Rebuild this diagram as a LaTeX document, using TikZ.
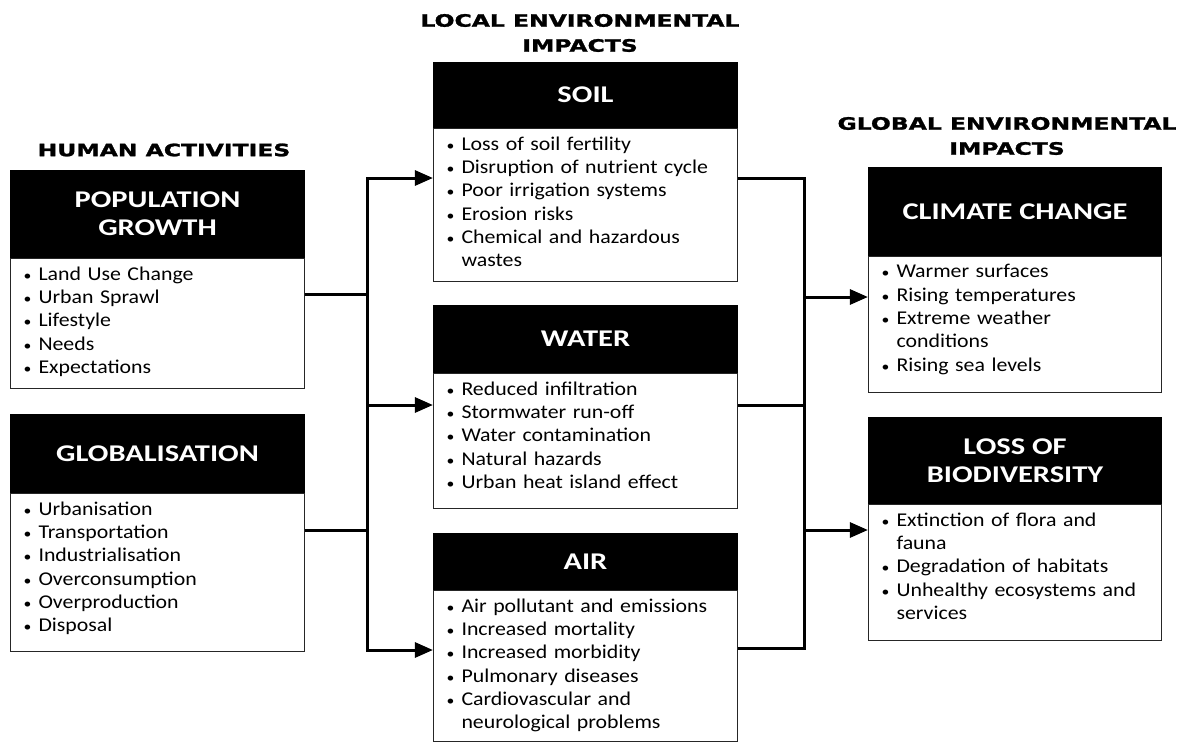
\documentclass[tikz,border=0pt]{standalone}
\usepackage{fontspec}
\setmainfont{Carlito}
\newfontfamily\headfont{Carlito}[FakeStretch=1.27]
\newfontfamily\bodyfont{Carlito}[FakeStretch=1.12]
\newfontfamily\ttlfont{DejaVu Sans}[FakeStretch=1.38,BoldFeatures={FakeBold=1.5}]
\usetikzlibrary{arrows.meta,positioning}

\tikzset{
  head/.style={fill=black,draw=black,line width=1pt,text=white,align=center,inner sep=0pt,
    anchor=north west,font=\headfont\bfseries\fontsize{24}{28}\selectfont},
  body/.style={draw=black!85,line width=1.2pt,fill=white,align=left,inner xsep=13pt,inner ysep=8pt,
    font=\bodyfont\fontsize{19.5}{23.3}\selectfont,below=0pt of #1},
  title/.style={align=center,font=\ttlfont\bfseries\fontsize{17}{25}\selectfont},
  link/.style={line width=3pt},
  arr/.style={link,-{Triangle[length=18pt,width=15pt]}}
}
\newcommand{\bitem}[1]{\par\hangindent=15pt\hangafter=1\noindent\makebox[15pt][l]{\fontsize{14}{14}\selectfont\textbullet}#1}
\newcommand{\bodytext}[2]{\vbox to #1{\raggedright #2\vfil}}

\begin{document}
\begin{tikzpicture}[x=1pt,y=-1pt]
\useasboundingbox (0,0) rectangle (1188,742);

% titles
\node[title] (human) at (164,150) {HUMAN ACTIVITIES};
\node[title] (local) at (580,33) {LOCAL ENVIRONMENTAL\\IMPACTS};
\node[title] (global) at (1007,136) {GLOBAL ENVIRONMENTAL\\IMPACTS};

% human activities
\node[head,minimum width=294,minimum height=87] (pop) at (10,170) {POPULATION\\GROWTH};
\node[body=pop,text width=268] (popbody) {\bodytext{114pt}{%
  \bitem{Land Use Change}\bitem{Urban Sprawl}\bitem{Lifestyle}\bitem{Needs}\bitem{Expectations}}};
\node[head,minimum width=294,minimum height=78] (glob) at (10,414) {GLOBALISATION};
\node[body=glob,text width=268] (globbody) {\bodytext{142pt}{%
  \bitem{Urbanisation}\bitem{Transportation}\bitem{Industrialisation}\bitem{Overconsumption}%
  \bitem{Overproduction}\bitem{Disposal}}};

% local impacts
\node[head,minimum width=304,minimum height=65] (soil) at (433,62) {SOIL};
\node[body=soil,text width=278] (soilbody) {\bodytext{137pt}{%
  \bitem{Loss of soil fertility}\bitem{Disruption of nutrient cycle}\bitem{Poor irrigation systems}%
  \bitem{Erosion risks}\bitem{Chemical and hazardous\newline wastes}}};
\node[head,minimum width=304,minimum height=67] (water) at (433,305) {WATER};
\node[body=water,text width=278] (waterbody) {\bodytext{119pt}{%
  \bitem{Reduced infiltration}\bitem{Stormwater run-off}\bitem{Water contamination}%
  \bitem{Natural hazards}\bitem{Urban heat island effect}}};
\node[head,minimum width=304,minimum height=56] (air) at (433,533) {AIR};
\node[body=air,text width=278] (airbody) {\bodytext{135pt}{%
  \bitem{Air pollutant and emissions}\bitem{Increased mortality}\bitem{Increased morbidity}%
  \bitem{Pulmonary diseases}\bitem{Cardiovascular and\newline neurological problems}}};

% global impacts
\node[head,minimum width=293,minimum height=88] (clim) at (868,167) {CLIMATE CHANGE};
\node[body=clim,text width=267] (climbody) {\bodytext{120pt}{%
  \bitem{Warmer surfaces}\bitem{Rising temperatures}\bitem{Extreme weather\newline conditions}%
  \bitem{Rising sea levels}}};
\node[head,minimum width=293,minimum height=86] (bio) at (868,417) {LOSS OF\\BIODIVERSITY};
\node[body=bio,text width=267] (biobody) {\bodytext{120pt}{%
  \bitem{Extinction of flora and\newline fauna}\bitem{Degradation of habitats}%
  \bitem{Unhealthy ecosystems and\newline services}}};

% left bus
\coordinate (lt) at (367,178);
\coordinate (lm) at (367,405);
\coordinate (lb) at (367,650);
\coordinate (lp) at (367,294);
\coordinate (lg) at (367,530);
\draw[link] (popbody.east |- lp) -- (lp);
\draw[link] (globbody.east |- lg) -- (lg);
\draw[link,{Triangle[length=18pt,width=15pt]}-{Triangle[length=18pt,width=15pt]}]
  (soilbody.west |- lt) -- (lt) -- (lb) -- (airbody.west |- lb);
\draw[arr] (lm) -- (waterbody.west |- lm);

% right bus
\coordinate (rt) at (804,178);
\coordinate (rw) at (804,405);
\coordinate (rb) at (804,648);
\coordinate (rc) at (804,297);
\coordinate (rd) at (804,530);
\draw[link] (soilbody.east |- rt) -- (rt) -- (rb) -- (airbody.east |- rb);
\draw[link] (waterbody.east |- rw) -- (rw);
\draw[arr] (rc) -- (climbody.west |- rc);
\draw[arr] (rd) -- (biobody.west |- rd);
\end{tikzpicture}
\end{document}
